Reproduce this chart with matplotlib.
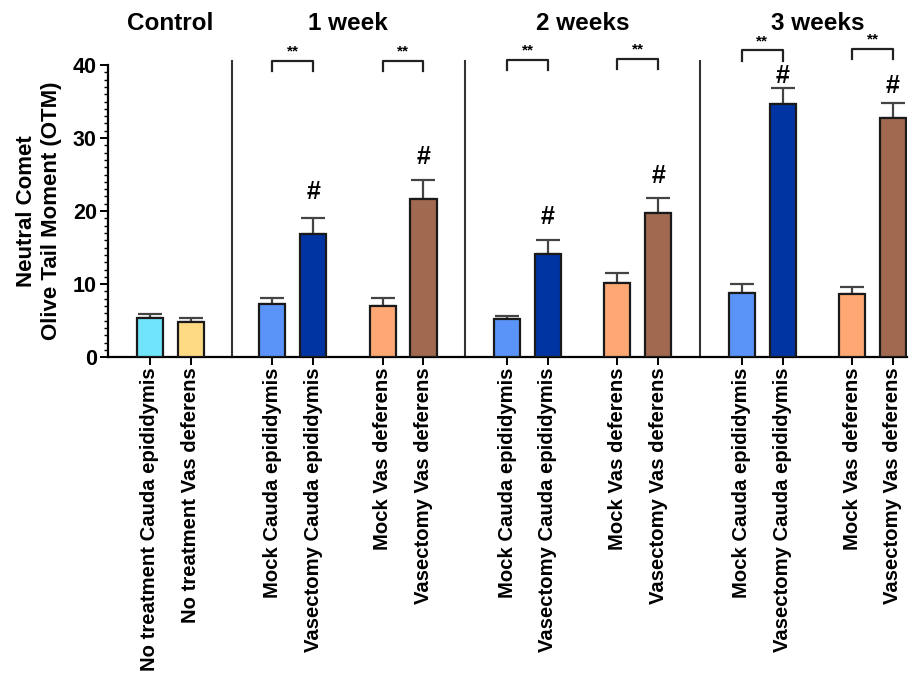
import matplotlib
matplotlib.use("Agg")
import matplotlib.pyplot as plt
from matplotlib.ticker import MultipleLocator
from matplotlib.transforms import blended_transform_factory

plt.rcParams["font.family"] = ["Liberation Sans", "DejaVu Sans"]
plt.rcParams["font.weight"] = "bold"

# bar layout: one tick per bar, grouped by time point
labels = [
    "No treatment Cauda epididymis", "No treatment Vas deferens",
    "Mock Cauda epididymis", "Vasectomy Cauda epididymis",
    "Mock Vas deferens", "Vasectomy Vas deferens",
    "Mock Cauda epididymis", "Vasectomy Cauda epididymis",
    "Mock Vas deferens", "Vasectomy Vas deferens",
    "Mock Cauda epididymis", "Vasectomy Cauda epididymis",
    "Mock Vas deferens", "Vasectomy Vas deferens",
]
positions = [0, 1, 3, 4, 5.7, 6.7, 8.75, 9.75, 11.45, 12.45, 14.5, 15.5, 17.2, 18.2]

# mean OTM and SEM
means = [5.3, 4.85, 7.25, 16.8, 6.95, 21.7, 5.2, 14.1, 10.1, 19.8, 8.75, 34.6, 8.6, 32.8]
sems = [0.6, 0.55, 0.85, 2.2, 1.15, 2.5, 0.5, 1.9, 1.4, 1.95, 1.25, 2.2, 1.0, 1.95]

colors = ["#6FE4FA", "#FFDA85",
          "#5B94F9", "#0034A3", "#FFA873", "#A1694F",
          "#5B94F9", "#0034A3", "#FFA873", "#A1694F",
          "#5B94F9", "#0034A3", "#FFA873", "#A1694F"]

groups = ["Control", "1 week", "2 weeks", "3 weeks"]
group_members = [(0, 1), (2, 5), (6, 9), (10, 13)]
separators = [2.0, 7.72, 13.47]

# "**" comparisons (mock vs vasectomy) and bracket heights
pairs = [(2, 3), (4, 5), (6, 7), (8, 9), (10, 11), (12, 13)]
bracket_y = [40.6, 40.6, 40.7, 40.8, 42.0, 42.2]

# "#" marks vs control and their heights
hash_bars = [3, 5, 7, 9, 11, 13]
hash_y = [22.6, 27.4, 19.2, 24.8, 38.5, 37.1]

fig = plt.figure(figsize=(9.22, 6.74), dpi=100)
ax = fig.add_axes([0.117, 0.470, 0.867, 0.4336])

ax.bar(positions, means, width=0.64, color=colors, edgecolor="#1a1a1a",
       linewidth=1.6, zorder=3)
ax.errorbar(positions, means, yerr=[[0] * len(sems), sems], fmt="none",
            ecolor="#444444", elinewidth=1.6, capsize=8.5, capthick=1.6, zorder=2)

ax.set_xlim(-1.03, 18.55)
ax.set_ylim(0, 40)
ax.yaxis.set_major_locator(MultipleLocator(10))
ax.yaxis.set_minor_locator(MultipleLocator(1))
ax.tick_params(axis="y", which="major", length=6, width=1.4, labelsize=15.5, pad=2)
ax.tick_params(axis="y", which="minor", length=3, width=1.0)
ax.tick_params(axis="x", length=6, width=1.4, labelsize=14.6, pad=1.5)
ax.set_xticks(positions)
ax.set_xticklabels(labels, rotation=90)

for side in ("top", "right"):
    ax.spines[side].set_visible(False)
for side in ("left", "bottom"):
    ax.spines[side].set_linewidth(1.6)

ax.set_ylabel("Neutral Comet\nOlive Tail Moment (OTM)", fontsize=16,
              fontweight="bold", labelpad=8, linespacing=1.2)

# separators between time points
for sx in separators:
    ax.plot([sx, sx], [0, 40.5], color="#333333", lw=1.5, clip_on=False, zorder=1)

# group titles
trans = blended_transform_factory(ax.transData, ax.transAxes)
for name, (i0, i1) in zip(groups, group_members):
    cx = (positions[i0] + positions[i1]) / 2
    ax.text(cx, 1.143, name, transform=trans, ha="center", va="center",
            fontsize=17.5, fontweight="bold")

# significance brackets
for (a, b), by in zip(pairs, bracket_y):
    xa, xb = positions[a], positions[b]
    ax.plot([xa, xa, xb, xb], [by - 1.4, by, by, by - 1.4], color="#222222",
            lw=1.6, clip_on=False)
    ax.text((xa + xb) / 2, by + 0.3, "**", ha="center", va="bottom",
            fontsize=11, fontweight="bold", clip_on=False)

for i, hy in zip(hash_bars, hash_y):
    ax.text(positions[i], hy, "#", ha="center", va="center", fontsize=18,
            fontweight="bold", clip_on=False)

fig.savefig("out.png", dpi=100)
